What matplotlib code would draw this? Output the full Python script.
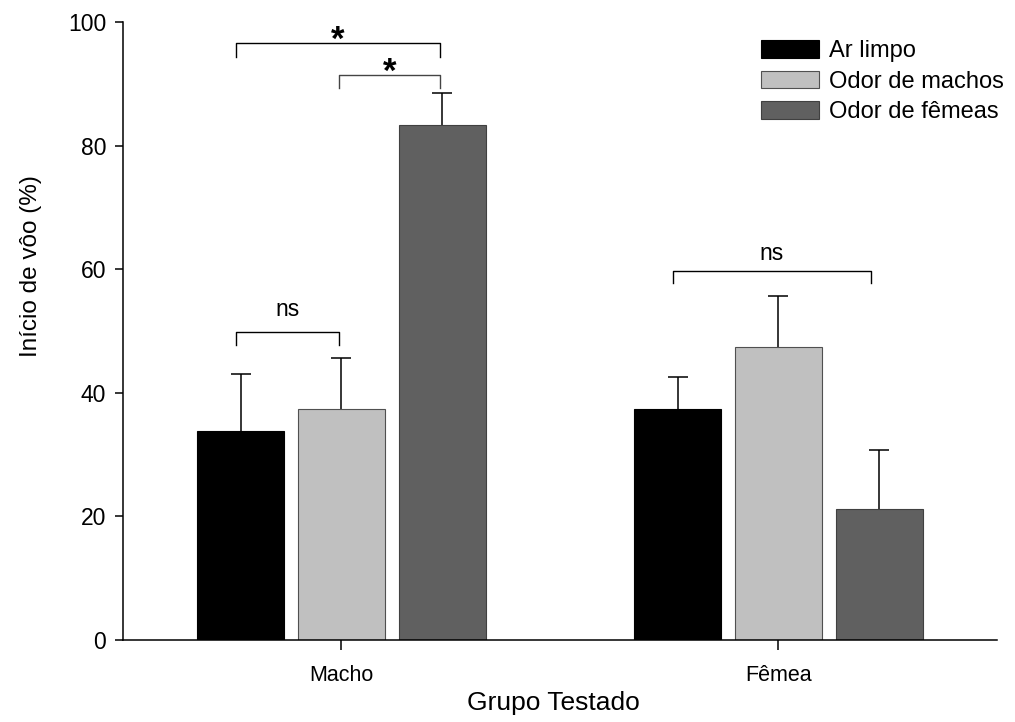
import numpy as np
import matplotlib.pyplot as plt

plt.rcParams['font.family'] = ['Liberation Sans', 'DejaVu Sans']

# data
grupos = ['Macho', 'Fêmea']
tratamentos = ['Ar limpo', 'Odor de machos', 'Odor de fêmeas']
ar_limpo = [33.8, 37.4]
ar_limpo_err = [9.2, 5.2]
odor_machos = [37.4, 47.4]
odor_machos_err = [8.3, 8.3]
odor_femeas = [83.4, 21.2]
odor_femeas_err = [5.1, 9.5]

cores = ['#000000', '#C0C0C0', '#606060']
bordas = ['#000000', '#505050', '#404040']

fig = plt.figure(figsize=(10.15, 7.22), dpi=100)
ax = fig.add_axes([0.1212, 0.1136, 0.861, 0.856])

x = np.arange(len(grupos))
w = 0.2
step = 0.231
medias = [ar_limpo, odor_machos, odor_femeas]
erros = [ar_limpo_err, odor_machos_err, odor_femeas_err]

for i in range(3):
    pos = x + (i - 1) * step
    ax.bar(pos, medias[i], width=w, color=cores[i], edgecolor=bordas[i],
           linewidth=0.8, label=tratamentos[i], zorder=2)
    eb = ax.errorbar(pos, medias[i], yerr=[np.zeros(2), erros[i]], fmt='none',
                     ecolor='#000000', elinewidth=1.1, capsize=7, capthick=1.1, zorder=1)
    # only the upper cap is wanted
    eb[1][0].set_visible(False)

ax.set_xlim(-0.5, 1.5)
ax.set_ylim(0, 100)
ax.set_yticks([0, 20, 40, 60, 80, 100])
ax.set_xticks(x)
ax.set_xticklabels(grupos, fontsize=15.5)
ax.tick_params(axis='y', labelsize=16.5, length=6, width=1.1, direction='out', pad=6)
ax.tick_params(axis='x', length=7, width=1.1, direction='out', pad=11)
for s in ['top', 'right']:
    ax.spines[s].set_visible(False)
for s in ['left', 'bottom']:
    ax.spines[s].set_linewidth(1.1)

ax.set_xlabel('Grupo Testado', fontsize=19)
ax.set_ylabel('Início de vôo (%)', fontsize=17.5)
ax.xaxis.set_label_coords(0.492, -0.083)
ax.yaxis.set_label_coords(-0.093, 0.605)


def colchete(x1, x2, y, h, txt, ty, fs, cor='#000000'):
    ax.plot([x1, x1, x2, x2], [y - h, y, y, y - h], color=cor, lw=1.0,
            clip_on=False, zorder=3)
    ax.text((x1 + x2) / 2, ty, txt, ha='center', va='center', fontsize=fs,
            fontweight='bold' if txt == '*' else 'normal', clip_on=False)


b0 = x[0] - step - 0.01
b1 = x[0] - 0.005
b2 = x[0] + step - 0.006
colchete(b0, b2, 96.6, 2.2, '*', 97.1, 25)
colchete(b1, b2, 91.4, 2.1, '*', 91.8, 25, '#444444')
colchete(b0, b1, 49.8, 2.1, 'ns', 53.4, 16.5)
f0 = x[1] - step - 0.01
f2 = x[1] + step - 0.02
colchete(f0, f2, 59.7, 2.0, 'ns', 62.6, 16.5)

leg = ax.legend(loc='upper right', bbox_to_anchor=(1.024, 0.993), frameon=False,
                fontsize=17, handlelength=2.45, handleheight=0.76,
                labelspacing=0.36, handletextpad=0.42, borderaxespad=0.2)

fig.savefig('out.png', dpi=100)
